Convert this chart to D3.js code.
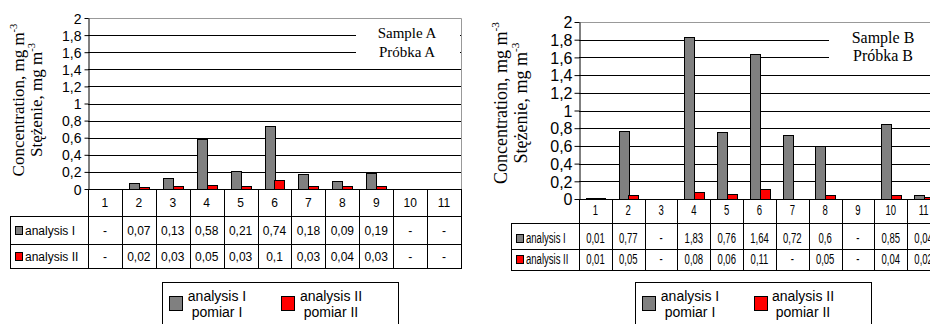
<!DOCTYPE html>
<html>
<head>
<meta charset="utf-8">
<script src="https://cdn.jsdelivr.net/npm/d3@7"></script>
<style>
  html, body { margin: 0; padding: 0; background: #fff; }
  svg { display: block; }
</style>
</head>
<body>
<svg id="chart" width="930" height="324"></svg>
<script>
// ---------- DATA ----------
const categories = ["1","2","3","4","5","6","7","8","9","10","11"];
const seriesKeys = ["analysis I", "analysis II"];
const legendLines = [["analysis I", "pomiar I"], ["analysis II", "pomiar II"]];
const sampleA_analysisI  = [null, 0.07, 0.13, 0.58, 0.21, 0.74, 0.18, 0.09, 0.19, null, null];
const sampleA_analysisII = [null, 0.02, 0.03, 0.05, 0.03, 0.10, 0.03, 0.04, 0.03, null, null];
const sampleB_analysisI  = [0.01, 0.77, null, 1.83, 0.76, 1.64, 0.72, 0.60, null, 0.85, 0.04];
const sampleB_analysisII = [0.01, 0.05, null, 0.08, 0.06, 0.11, null, 0.05, null, 0.04, 0.02];
const yTicks = [0, 0.2, 0.4, 0.6, 0.8, 1.0, 1.2, 1.4, 1.6, 1.8, 2.0];
const yTitleLines = ["Concentration, mg m", "Stężenie, mg m"];
const yTitleSup = "-3";
const sampleATitle = ["Sample A", "Próbka A"];
const sampleBTitle = ["Sample B", "Próbka B"];
const seriesColors = ["#808080", "#ff0000"];

const fmt = v => (v === null || v === undefined) ? "-" : String(+v.toFixed(2)).replace(".", ",");

const svg = d3.select("#chart");

function drawChart(cfg) {
  const g = svg.append("g");
  const x0 = d3.scaleBand().domain(categories).range([cfg.left, cfg.right]).padding(0);
  const x1 = d3.scaleBand().domain(seriesKeys).range([0, x0.bandwidth()]).paddingInner(0).paddingOuter(0.7);
  const y = d3.scaleLinear().domain([0, 2]).range([cfg.bottom, cfg.top]);

  // grid lines
  g.append("g").selectAll("line").data(yTicks.filter(t => t > 0 && t < 2)).join("line")
    .attr("x1", cfg.left).attr("x2", cfg.right)
    .attr("y1", d => Math.round(y(d)) + 0.5).attr("y2", d => Math.round(y(d)) + 0.5)
    .attr("stroke", "#000").attr("stroke-width", 1);

  // plot frame (top + right, gray)
  g.append("path")
    .attr("d", `M${cfg.left},${Math.round(y(2)) + 0.5}H${cfg.right + 0.5}V${cfg.bottom}`)
    .attr("fill", "none").attr("stroke", "#999").attr("stroke-width", 1);

  // sample title box
  g.append("rect")
    .attr("x", cfg.boxX).attr("y", Math.round(y(2)) + 1.5)
    .attr("width", cfg.boxW).attr("height", y(1.4) - y(2) - 2)
    .attr("fill", "#fff");
  cfg.sampleTitle.forEach((t, i) => {
    g.append("text").attr("x", cfg.boxCx).attr("y", cfg.boxTextY + i * cfg.boxLineH)
      .attr("text-anchor", "middle")
      .attr("font-family", "Liberation Serif, Times New Roman, serif")
      .attr("font-size", cfg.boxFont).text(t);
  });

  // bars
  const series = [cfg.data[0], cfg.data[1]];
  series.forEach((vals, si) => {
    g.append("g").selectAll("rect").data(vals.map((v, i) => ({cat: categories[i], v})).filter(d => d.v !== null))
      .join("rect")
      .attr("x", d => Math.round(x0(d.cat) + x1(seriesKeys[si])) + 0.5)
      .attr("y", d => Math.round(y(d.v)) + 0.5)
      .attr("width", Math.round(x1.bandwidth()))
      .attr("height", d => Math.max(0, Math.round(y(0)) - Math.round(y(d.v))))
      .attr("fill", seriesColors[si]).attr("stroke", "#000").attr("stroke-width", 1);
  });

  // y axis
  const axis = d3.axisLeft(y).tickValues(yTicks).tickSize(cfg.tickSize).tickSizeOuter(0)
    .tickPadding(cfg.tickPad).tickFormat(d => String(d).replace(".", ","));
  const ag = g.append("g").attr("transform", `translate(${cfg.left + 0.5},0)`).call(axis);
  ag.select(".domain").attr("stroke", "#000");
  ag.selectAll(".tick line").attr("stroke", "#000");
  ag.selectAll(".tick text")
    .attr("font-family", "Liberation Sans, Arial, sans-serif")
    .attr("font-size", cfg.tickFont).attr("fill", "#000").attr("dy", "0.36em");

  // y title
  yTitleLines.forEach((t, i) => {
    const tx = g.append("text")
      .attr("transform", `translate(${cfg.titleX[i]},${cfg.titleCy}) rotate(-90)`)
      .attr("text-anchor", "middle")
      .attr("font-family", "Liberation Serif, Times New Roman, serif")
      .attr("font-size", cfg.titleFont);
    tx.append("tspan").text(t);
    tx.append("tspan").attr("font-size", cfg.titleFont * 0.62).attr("dy", -cfg.titleFont * 0.42).text(yTitleSup);
  });

  // table
  const tg = g.append("g");
  const rows = cfg.rows; // [catTop, row1Top, row2Top, bottom]
  const line = (x1_, y1_, x2_, y2_) => tg.append("line")
    .attr("x1", x1_).attr("y1", y1_).attr("x2", x2_).attr("y2", y2_)
    .attr("stroke", "#000").attr("stroke-width", 1);
  const R = v => Math.round(v) + 0.5;
  line(cfg.left, R(rows[0]), cfg.right + 1, R(rows[0]));
  line(cfg.tableLeft, R(rows[1]), cfg.right + 1, R(rows[1]));
  line(cfg.tableLeft, R(rows[2]), cfg.right + 1, R(rows[2]));
  line(cfg.tableLeft, R(rows[3]), cfg.right + 1, R(rows[3]));
  line(R(cfg.tableLeft), R(rows[1]), R(cfg.tableLeft), R(rows[3]));
  categories.forEach(c => line(R(x0(c)), R(rows[0]), R(x0(c)), R(rows[3])));
  line(R(cfg.right), R(rows[0]), R(cfg.right), R(rows[3]));

  const cellText = (x, yy, txt, anchor) => {
    tg.append("text")
      .attr("transform", `translate(${x},${yy}) scale(${cfg.tableScale},1)`)
      .attr("text-anchor", anchor)
      .attr("font-family", "Liberation Sans, Arial, sans-serif")
      .attr("font-size", cfg.tableFont).attr("fill", "#000").text(txt);
  };
  categories.forEach((c, i) => {
    const cx = x0(c) + x0.bandwidth() / 2;
    cellText(cx, cfg.textBase[0], c, "middle");
    cellText(cx, cfg.textBase[1], fmt(cfg.data[0][i]), "middle");
    cellText(cx, cfg.textBase[2], fmt(cfg.data[1][i]), "middle");
  });
  seriesKeys.forEach((k, si) => {
    tg.append("rect")
      .attr("x", cfg.tableLeft + 5.5).attr("y", cfg.textBase[si + 1] - 8.5)
      .attr("width", 7).attr("height", 8)
      .attr("fill", seriesColors[si]).attr("stroke", "#000").attr("stroke-width", 1);
    cellText(cfg.tableLeft + 15, cfg.textBase[si + 1], k, "start");
  });

  // legend
  const lg = g.append("g");
  lg.append("rect").attr("x", cfg.legX + 0.5).attr("y", cfg.legTop + 0.5)
    .attr("width", cfg.legW).attr("height", 60)
    .attr("fill", "#fff").attr("stroke", "#000").attr("stroke-width", 1);
  legendLines.forEach((ls, si) => {
    lg.append("rect")
      .attr("x", cfg.legSq[si] + 0.5).attr("y", cfg.legTop + 14.5)
      .attr("width", 13).attr("height", 14)
      .attr("fill", seriesColors[si]).attr("stroke", "#000").attr("stroke-width", 1);
    ls.forEach((t, li) => {
      lg.append("text").attr("x", cfg.legTx[si]).attr("y", cfg.legTop + 19 + li * 16)
        .attr("text-anchor", "middle")
        .attr("font-family", "Liberation Sans, Arial, sans-serif")
        .attr("font-size", 14).attr("fill", "#000").text(t);
    });
  });
}

drawChart({
  data: [sampleA_analysisI, sampleA_analysisII], sampleTitle: sampleATitle,
  left: 88, right: 461, top: 18, bottom: 189,
  boxX: 356, boxW: 104, boxCx: 407, boxTextY: 38, boxLineH: 19, boxFont: 15,
  tickSize: 4, tickPad: 3, tickFont: 14,
  titleX: [24, 42], titleCy: 100, titleFont: 17,
  tableLeft: 10, rows: [189, 216, 244, 268], textBase: [207, 235, 261],
  tableFont: 12, tableScale: 1,
  legX: 162, legW: 236, legTop: 282, legSq: [169, 281], legTx: [217, 331]
});

drawChart({
  data: [sampleB_analysisI, sampleB_analysisII], sampleTitle: sampleBTitle,
  left: 579, right: 940, top: 22, bottom: 199,
  boxX: 829, boxW: 110, boxCx: 883, boxTextY: 43, boxLineH: 18, boxFont: 16,
  tickSize: 5, tickPad: 2, tickFont: 16,
  titleX: [507, 527], titleCy: 103, titleFont: 18,
  tableLeft: 511, rows: [199, 223, 249, 270], textBase: [215, 243, 264],
  tableFont: 14, tableScale: 0.68,
  legX: 635, legW: 236, legTop: 282, legSq: [642, 754], legTx: [690, 803]
});
</script>
</body>
</html>
